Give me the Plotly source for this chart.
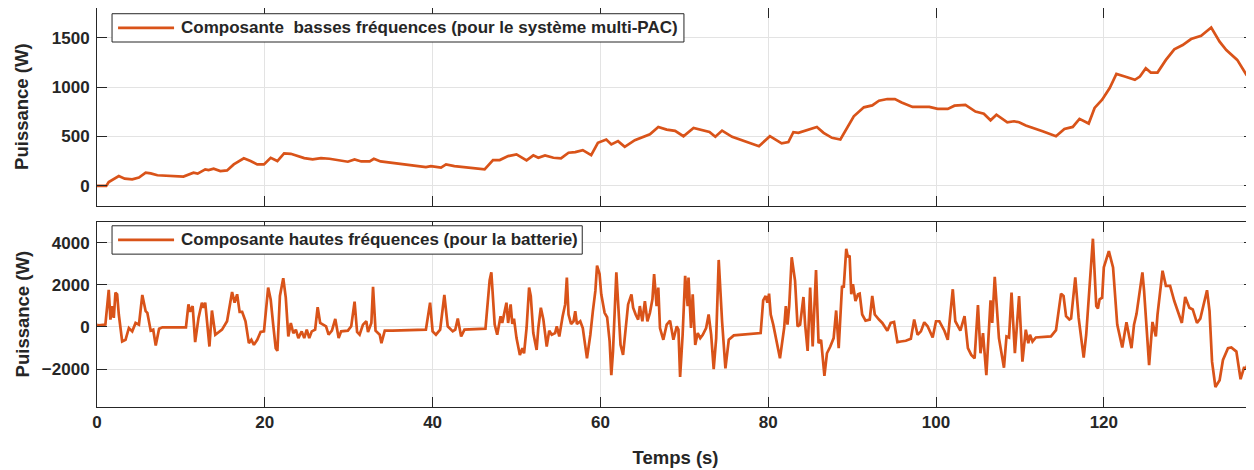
import plotly.graph_objects as go

# composante basses fréquences (système multi-PAC)
lf_t = [0, 1.1, 1.4, 2.0, 2.6, 3.3, 4.2, 5.0, 5.8, 6.4,
        7.2, 10.3, 11.5, 12.0, 12.9, 13.3, 13.9, 14.7, 15.5, 16.3,
        17.5, 18.3, 19.1, 19.9, 20.7, 21.5, 22.3, 23.1, 23.9, 24.7,
        25.7, 26.7, 27.7, 28.7, 29.9, 30.7, 31.5, 32.5, 33.0, 33.8,
        36.2, 39.2, 39.8, 41.0, 41.6, 42.6, 46.2, 47.2, 48.0, 49.0,
        50.0, 51.2, 52.0, 52.6, 53.4, 54.4, 55.3, 56.2, 57.0, 57.9,
        58.9, 59.7, 60.7, 61.3, 62.1, 62.9, 64.1, 65.9, 66.9, 67.9,
        68.9, 69.9, 71.1, 72.3, 73.0, 73.7, 74.5, 75.7, 78.9, 80.2,
        81.6, 82.4, 83.0, 83.6, 84.8, 85.8, 86.6, 87.6, 88.6, 89.4,
        90.2, 91.4, 92.4, 93.2, 94.2, 95.1, 95.9, 97.2, 98.4, 99.2,
        100.2, 101.4, 102.2, 103.5, 104.7, 105.7, 106.5, 107.2, 108.5, 109.3,
        109.9, 110.7, 112.7, 114.3, 115.3, 116.3, 117.1, 118.2, 118.9, 119.8,
        120.7, 121.5, 122.5, 123.7, 124.3, 125.0, 125.6, 126.4, 127.4, 128.4,
        129.4, 130.4, 131.6, 132.8, 133.8, 134.6, 135.9, 137.0, 138.2]
lf_p = [0, 0, 40, 67, 100, 74, 67, 84, 134, 127,
        108, 95, 134, 124, 168, 161, 175, 151, 157, 218,
        279, 252, 218, 218, 285, 252, 329, 325, 302, 282,
        268, 282, 275, 262, 245, 268, 248, 248, 275, 248,
        225, 191, 201, 185, 218, 201, 168, 262, 262, 302,
        319, 259, 309, 285, 309, 285, 279, 336, 342, 362,
        312, 436, 470, 420, 453, 396, 463, 523, 597, 570,
        557, 503, 587, 557, 547, 497, 560, 497, 402, 503,
        430, 443, 543, 537, 570, 597, 537, 487, 470, 587,
        704, 795, 815, 862, 879, 879, 845, 799, 799, 799,
        779, 779, 812, 819, 752, 731, 664, 721, 644, 654,
        644, 611, 553, 503, 577, 597, 678, 631, 789, 872,
        990, 1134, 1107, 1073, 1107, 1191, 1147, 1147, 1275, 1382,
        1425, 1486, 1519, 1603, 1459, 1375, 1275, 1124, 1023]

# composante hautes fréquences (batterie)
hf_t = [0, 0.2, 1.0, 1.4, 1.6, 1.8, 2.0, 2.2, 2.4, 2.6,
        3.0, 3.4, 3.8, 4.2, 4.6, 5.0, 5.4, 5.8, 6.0, 6.4,
        6.7, 7.0, 7.4, 7.8, 10.6, 10.9, 11.1, 11.4, 11.7, 12.1,
        12.5, 12.7, 12.9, 13.4, 13.7, 14.1, 14.9, 15.5, 16.1, 16.4,
        16.7, 17.0, 17.3, 17.7, 18.1, 18.4, 18.7, 19.1, 19.5, 19.9,
        20.4, 20.7, 21.0, 21.3, 21.5, 21.8, 22.2, 22.5, 22.8, 23.1,
        23.4, 23.7, 24.0, 24.4, 24.7, 25.0, 25.3, 25.6, 26.0, 26.3,
        26.6, 26.9, 27.3, 27.6, 28.0, 28.4, 28.8, 29.1, 29.9, 30.3,
        30.7, 31.0, 31.3, 31.7, 32.1, 32.3, 32.7, 32.9, 33.2, 33.7,
        33.9, 34.3, 35.2, 39.2, 39.7, 40.0, 40.4, 40.9, 41.4, 41.8,
        42.4, 42.7, 43.0, 43.4, 43.8, 46.3, 46.6, 46.8, 47.0, 47.2,
        47.4, 47.7, 48.1, 48.3, 48.5, 48.8, 49.0, 49.3, 49.5, 49.7,
        50.0, 50.4, 50.7, 50.9, 51.2, 51.5, 51.7, 52.0, 52.4, 52.6,
        52.9, 53.2, 53.6, 53.9, 54.2, 54.6, 54.8, 55.1, 55.5, 55.8,
        56.0, 56.2, 56.5, 56.8, 57.0, 57.2, 57.6, 57.9, 58.4, 58.8,
        59.1, 59.4, 59.6, 59.9, 60.1, 60.5, 60.8, 61.1, 61.3, 61.5,
        61.9, 62.1, 62.4, 62.7, 63.0, 63.3, 63.7, 63.9, 64.2, 64.5,
        64.7, 65.0, 65.3, 65.6, 65.9, 66.2, 66.4, 66.7, 66.9, 67.1,
        67.5, 67.9, 68.3, 68.7, 69.1, 69.3, 69.5, 69.8, 70.1, 70.4,
        70.5, 70.8, 71.0, 71.3, 71.6, 71.9, 72.2, 72.6, 72.9, 73.2,
        73.5, 73.8, 74.1, 74.5, 74.9, 75.3, 75.9, 79.1, 79.4, 79.7,
        79.9, 80.1, 80.3, 80.6, 81.4, 81.9, 82.1, 82.3, 82.5, 82.8,
        83.2, 83.5, 83.8, 84.2, 84.4, 84.7, 85.0, 85.3, 85.7, 86.0,
        86.3, 86.7, 87.0, 87.4, 87.8, 88.1, 88.4, 88.8, 89.0, 89.3,
        89.5, 89.7, 89.9, 90.1, 90.4, 90.7, 90.9, 91.2, 91.6, 92.1,
        92.4, 92.7, 93.2, 93.6, 94.2, 94.6, 95.0, 95.4, 95.8, 96.4,
        97.0, 97.4, 97.8, 98.2, 98.6, 99.0, 99.6, 100.0, 100.4, 100.8,
        101.0, 101.4, 102.0, 102.3, 102.5, 102.9, 103.4, 103.8, 104.2, 104.6,
        105.0, 105.3, 105.6, 106.0, 106.5, 106.7, 107.0, 107.3, 107.5, 108.1,
        108.4, 108.7, 109.0, 109.4, 109.9, 110.3, 110.7, 111.0, 111.2, 111.5,
        111.9, 113.7, 114.3, 114.9, 115.2, 115.5, 115.9, 116.1, 116.6, 117.0,
        117.6, 117.9, 118.7, 119.1, 119.3, 119.5, 119.8, 120.0, 120.6, 121.1,
        121.3, 121.6, 122.2, 122.7, 123.3, 123.6, 123.9, 124.6, 124.8, 125.4,
        125.8, 126.2, 126.4, 127.0, 127.4, 127.9, 128.4, 128.8, 129.3, 129.7,
        130.2, 130.6, 131.1, 131.5, 132.0, 132.3, 132.6, 132.9, 133.3, 133.8,
        134.2, 134.8, 135.2, 135.8, 136.3, 136.7, 137.0, 137.4, 137.8, 138.3]
hf_p = [100, 80, 112, 1760, 352, 992, 432, 1632, 1552, 592,
        -688, -608, -48, -208, 192, 112, 1520, 752, 672, -176,
        -128, -880, -80, -16, -16, 1072, 720, 992, -720, 432,
        1152, 912, 1152, -928, 784, -368, -128, 272, 1664, 1152,
        1552, 720, 720, 272, -768, -608, -848, -608, -240, -208,
        1872, 1312, 112, -1008, -1136, 1472, 2320, 1392, -448, 192,
        -300, -128, -528, -208, -528, -128, -528, -208, -128, 944,
        192, 112, 32, -368, -176, 384, -528, -208, -176, 32,
        1200, -240, -368, 112, 272, -240, 192, 1904, -176, -368,
        -768, -176, -176, -128, 1152, -208, -368, -128, 1520, 32,
        -208, -128, 400, -448, -128, -80, 1392, 2224, 2592, 1552,
        112, -368, 512, 192, 592, 1152, 192, 1072, 144, 400,
        -528, -1328, -1008, -1248, -48, 1872, 1472, -288, -1088, -48,
        912, 352, -928, -176, -368, -288, 32, -448, 512, 1072,
        2352, 592, 144, 272, 752, 144, 272, -48, -1488, -368,
        752, 1712, 2912, 2512, 1552, 672, 464, -688, -2288, -1168,
        2592, 1072, -848, -1328, -48, 1072, 1552, 912, 592, 352,
        992, 272, 1232, 272, 672, 1312, 2512, 992, 1872, -48,
        -608, 112, 300, -608, 32, -128, -2368, -368, 2432, 992,
        2352, -48, 1552, -848, -288, -528, -368, -48, 592, -368,
        -2000, -528, 3184, 272, -1968, -608, -400, -288, 1264, 1472,
        1152, 1584, 592, 112, -1488, -48, 992, 112, 992, 3312,
        2192, 32, 112, 1424, 112, -1136, 1872, -928, 2704, -768,
        -608, -2320, -1248, -928, -528, 784, -1008, 1952, 1872, 3712,
        3312, 3392, 1552, 2032, 1232, 1552, 1584, 592, 304, 352,
        1472, 592, 352, 192, -176, 192, 240, -720, -688, -656,
        -560, 352, -368, -208, 224, 32, -496, 272, 272, -16,
        -176, -608, 1792, 272, 112, -176, 512, -1008, -1328, -1488,
        1040, -1248, -288, -2288, 1264, 192, 2384, 272, -528, -1936,
        -448, -496, 1632, -1248, 1472, -1648, -128, -768, -368, -688,
        -496, -448, -150, 1584, 1472, 512, 352, 400, 2352, 432,
        -1456, -368, 4192, 992, 880, 1312, 1392, 2832, 3600, 2832,
        1712, 112, -976, 224, -1008, 112, 624, 2592, 1712, -1808,
        240, -448, 592, 2672, 1952, 1952, 1232, 720, 192, 1424,
        912, 832, 192, 400, 1312, 1744, 752, -1648, -2848, -2528,
        -1568, -1008, -976, -1168, -2480, -1936, -1936, -1328, -1168, -976]

x_ticks = [0, 20, 40, 60, 80, 100, 120]
y1_ticks = [0, 500, 1000, 1500]
y2_ticks = [-2000, 0, 2000, 4000]

lf_name = "Composante\u00a0 basses fréquences (pour le système multi-PAC)"
hf_name = "Composante hautes fréquences (pour la batterie)"

orange = "#D95319"
dark = "#262626"
bold = dict(family="Liberation Sans, Arial", size=17, color=dark, weight="bold")
title_font = dict(bold, size=18.5)

fig = go.Figure()
fig.add_trace(go.Scatter(x=lf_t, y=lf_p, mode="lines", line=dict(color=orange, width=2.7),
                         name=lf_name, xaxis="x", yaxis="y", showlegend=False))
fig.add_trace(go.Scatter(x=hf_t, y=hf_p, mode="lines", line=dict(color=orange, width=2.7),
                         name=hf_name, xaxis="x2", yaxis="y2", showlegend=False))

# matlab-like box with inside ticks
ax = dict(showline=True, linecolor=dark, linewidth=1, mirror="ticks",
          ticks="inside", ticklen=10, tickcolor=dark,
          showgrid=True, gridcolor="#e3e3e3", gridwidth=1, zeroline=False,
          tickfont=bold, automargin=False)

# legend boxes drawn by hand (matlab style: long line sample, tight box)
def add_legend(xref, yref, y0, y1, x1, text):
    fig.add_shape(type="rect", xref=xref, yref=yref, x0=0.0130, x1=x1, y0=y0, y1=y1,
                  line=dict(color=dark, width=1), fillcolor="white", layer="above")
    ym = (y0 + y1) / 2
    fig.add_shape(type="line", xref=xref, yref=yref, x0=0.0182, x1=0.0666, y0=ym, y1=ym,
                  line=dict(color=orange, width=2.7), layer="above")
    fig.add_annotation(xref=xref, yref=yref, x=0.0705, y=ym, text=text, showarrow=False,
                       xanchor="left", yanchor="middle", font=bold)

add_legend("x domain", "y domain", 0.828, 0.971, 0.5073, lf_name)
add_legend("x2 domain", "y2 domain", 0.825, 0.978, 0.4194, hf_name)

# y titles as rotated annotations, left of the tick labels
for yref in ["y domain", "y2 domain"]:
    fig.add_annotation(xref="paper", yref=yref, x=-0.0648, y=0.5, text="Puissance (W)",
                       textangle=-90, showarrow=False, xanchor="center", yanchor="middle",
                       font=title_font)

fig.update_layout(
    width=1246, height=462,
    margin=dict(l=89, r=0, t=0, b=63),
    plot_bgcolor="white", paper_bgcolor="white",
    showlegend=False,
    xaxis=dict(ax, domain=[0, 1], anchor="y", range=[0, 137.9],
               tickvals=x_ticks, showticklabels=False),
    yaxis=dict(ax, domain=[0.5045, 1], anchor="x", range=[-200, 1800], tickvals=y1_ticks,
               ticklabelstandoff=3),
    xaxis2=dict(ax, domain=[0, 1], anchor="y2", range=[0, 137.9], tickvals=x_ticks,
                matches="x",
                title=dict(text="Temps (s)", font=title_font, standoff=19)),
    yaxis2=dict(ax, domain=[0, 0.4644], anchor="x2", range=[-3800, 5000], tickvals=y2_ticks,
                ticklabelstandoff=3),
)

fig.write_html("out.html")
